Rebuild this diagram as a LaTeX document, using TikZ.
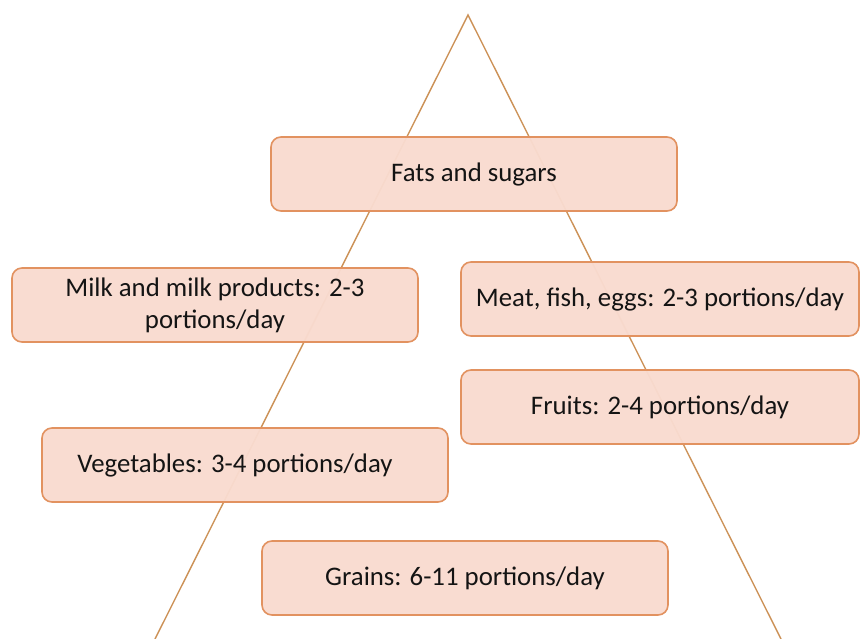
\documentclass[tikz,border=0pt]{standalone}
\usepackage{fontspec}
\setmainfont{Carlito}
\definecolor{boxfill}{RGB}{249,219,207}
\definecolor{boxline}{RGB}{226,146,96}
\definecolor{pyrline}{RGB}{204,146,88}

\begin{document}
\begin{tikzpicture}[x=1pt,y=-1pt,
  food box/.style={rectangle,rounded corners=10pt,draw=boxline,line width=1.6pt,
    fill=boxfill,fill opacity=0.97,text opacity=1,text=black!92,
    minimum width=406pt,minimum height=74pt,align=center,
    font=\fontsize{26.8}{32}\selectfont}]

  \useasboundingbox (0,0) rectangle (861,639);

  % pyramid outline
  \coordinate (top) at (468,15);
  \coordinate (left) at (155,639);
  \coordinate (right) at (781,639);
  \draw[pyrline,line width=1.4pt] (left) -- (top) -- (right);

  \node[food box] (fats)   at (474,174) {Fats and sugars};
  \node[food box] (milk)   at (215,305) {Milk and milk products: 2-3\\portions/day};
  \node[food box,minimum width=398pt] (meat)   at (660,299) {Meat, fish, eggs: 2-3 portions/day};
  \node[food box,minimum width=398pt] (fruits) at (660,407) {Fruits: 2-4 portions/day};
  \node[food box] (veg)    at (245,465) {Vegetables: 3-4 portions/day\hspace{20pt}};
  \node[food box] (grains) at (465,578) {Grains: 6-11 portions/day};
\end{tikzpicture}
\end{document}
